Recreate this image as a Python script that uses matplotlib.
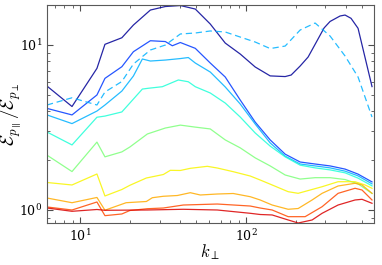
import numpy as np
import matplotlib
matplotlib.use('Agg')
import matplotlib.pyplot as plt

plt.rcParams['mathtext.fontset'] = 'cm'
plt.rcParams['font.family'] = 'serif'
plt.rcParams['font.serif'] = ['DejaVu Serif']

# ratio E_p_par / E_p_perp versus k_perp, one curve per time / run
k_navy = [6.28, 8.89, 12.57, 14.05, 17.77, 20.86, 26.41, 32.51, 40.04, 49.29, 60.69,
          74.72, 92.03, 113.3, 139.5, 171.8, 186.7, 211.5, 236.3, 260.4, 295.1, 320.6,
          368.4, 394.8, 429.0, 472.9, 513.9, 574.1]
v_navy = [5.64, 4.24, 7.22, 10.1, 11.07, 13.22, 16.30, 17.12, 17.36, 16.53, 13.41,
          10.28, 8.82, 7.36, 6.50, 6.44, 6.58, 7.46, 8.46, 10.1, 12.7, 13.9,
          15.0, 15.2, 14.52, 12.63, 8.91, 5.60]

k_blue = [6.28, 8.89, 12.57, 14.05, 17.77, 20.86, 26.41, 32.51, 35.83, 40.04, 49.29,
          60.69, 74.72, 92.03, 113.3, 139.5, 171.8, 211.5, 260.4, 320.6, 394.8, 472.9, 574.1]
v_blue = [4.13, 3.77, 4.98, 6.28, 7.39, 9.11, 10.62, 10.5, 9.9, 10.36, 9.55,
          7.78, 6.40, 4.64, 3.41, 2.66, 2.18, 1.954, 1.90, 1.85, 1.77, 1.65, 1.48]

k_dash = [6.28, 8.89, 12.57, 14.05, 17.77, 20.86, 26.41, 32.51, 40.04, 49.29, 60.69,
          74.72, 92.03, 113.3, 139.5, 171.8, 211.5, 260.4, 320.6, 394.8, 472.9, 574.1]
v_dash = [4.33, 4.79, 4.33, 5.19, 6.01, 7.67, 9.33, 10.0, 11.67, 11.83, 12.17,
          12.0, 11.18, 10.43, 9.52, 9.86, 12.33, 13.6, 11.34, 8.58, 6.40, 3.66]

k_lblue = [6.28, 8.89, 12.57, 14.05, 17.77, 20.86, 23.63, 26.41, 32.51, 40.04, 44.73,
           49.29, 60.69, 74.72, 92.03, 113.3, 139.5, 171.8, 211.5, 260.4, 320.6, 394.8,
           472.9, 574.1]
v_lblue = [3.77, 3.34, 3.98, 4.33, 5.26, 6.49, 8.23, 8.0, 8.11, 8.28, 8.4,
           7.78, 6.86, 5.57, 4.39, 3.32, 2.55, 2.12, 1.90, 1.85, 1.80, 1.72,
           1.61, 1.44]

k_cyan = [6.28, 8.89, 12.57, 14.05, 17.77, 23.63, 25.68, 31.19, 38.94, 44.73, 49.29,
          60.69, 74.72, 92.03, 113.3, 139.5, 171.8, 211.5, 260.4, 320.6, 394.8, 472.9, 574.1]
v_cyan = [2.97, 2.48, 3.65, 3.71, 3.93, 5.41, 5.47, 5.59, 6.14, 5.99, 5.59,
          5.12, 4.45, 3.66, 2.93, 2.44, 2.10, 1.87, 1.80, 1.75, 1.68, 1.56, 1.40]

k_green = [6.28, 8.89, 12.57, 14.05, 17.77, 19.87, 25.33, 32.51, 40.04, 49.29, 60.69,
           74.72, 92.03, 113.3, 139.5, 171.8, 211.5, 260.4, 320.6, 394.8, 472.9, 574.1]
v_green = [2.15, 1.71, 2.58, 2.10, 2.25, 2.41, 2.89, 3.14, 3.27, 3.18, 3.10,
           2.66, 2.38, 2.07, 1.85, 1.63, 1.54, 1.57, 1.57, 1.53, 1.44, 1.26]

k_yellow = [6.28, 8.89, 12.57, 14.05, 17.77, 19.87, 24.98, 31.62, 34.84, 40.04, 45.99,
            58.22, 66.88, 83.50, 105.7, 121.4, 143.4, 179.1, 205.8, 287.0, 358.3, 453.6,
            521.1, 574.1]
v_yellow = [1.468, 1.418, 1.653, 1.216, 1.331, 1.412, 1.563, 1.641, 1.740, 1.736, 1.789,
            1.840, 1.797, 1.707, 1.607, 1.520, 1.418, 1.291, 1.262, 1.384, 1.484, 1.484,
            1.418, 1.354]

k_orange = [6.28, 8.89, 12.57, 14.05, 18.85, 24.98, 27.15, 31.62, 38.39, 45.99, 52.84,
            66.88, 83.50, 105.7, 121.4, 143.4, 179.1, 205.8, 249.8, 287.0, 358.3, 453.6,
            499.7, 574.1]
v_orange = [1.182, 1.107, 1.191, 0.997, 1.107, 1.126, 1.187, 1.211, 1.224, 1.273, 1.233,
            1.250, 1.259, 1.204, 1.150, 1.072, 1.010, 1.021, 1.150, 1.262, 1.398, 1.452,
            1.418, 1.262]

k_redor = [6.28, 8.89, 12.57, 14.05, 17.77, 19.87, 25.33, 31.62, 41.74, 66.88, 105.7,
           121.4, 143.4, 179.1, 226.7, 287.0, 358.3, 453.6, 499.7, 574.1]
v_redor = [1.043, 1.0, 1.118, 0.924, 0.946, 0.993, 1.018, 1.028, 1.072, 1.087, 1.057,
           1.028, 1.0, 0.911, 0.911, 1.047, 1.262, 1.354, 1.322, 1.150]

k_red = [6.28, 8.89, 12.57, 14.05, 25.33, 41.74, 66.88, 105.7, 121.4, 143.4, 179.1,
         205.8, 249.8, 287.0, 358.3, 453.6, 499.7, 574.1]
v_red = [1.028, 0.982, 1.007, 0.996, 1.0, 1.01, 1.0, 0.955, 0.939, 0.933, 0.870,
         0.834, 0.870, 0.955, 1.072, 1.150, 1.161, 1.098]

curves = [
    (k_navy, v_navy, 0.02, '-'),
    (k_blue, v_blue, 0.18, '-'),
    (k_dash, v_dash, 0.30, '--'),
    (k_lblue, v_lblue, 0.30, '-'),
    (k_cyan, v_cyan, 0.39, '-'),
    (k_green, v_green, 0.50, '-'),
    (k_yellow, v_yellow, 0.65, '-'),
    (k_orange, v_orange, 0.73, '-'),
    (k_redor, v_redor, 0.83, '-'),
    (k_red, v_red, 0.92, '-'),
]

fig = plt.figure(figsize=(3.82, 2.65), dpi=100)
ax = fig.add_axes([0.123, 0.1585, 0.856, 0.8225])

for k, v, c, ls in curves:
    line, = ax.plot(k, v, ls, color=plt.cm.jet(c), lw=0.9, alpha=0.85)
    if ls == '--':
        line.set_dashes((5, 3))

ax.set_xscale('log')
ax.set_yscale('log')
ax.set_xlim(6.28, 590)
ax.set_ylim(0.834, 17.48)

ax.tick_params(which='both', direction='in', top=True, right=True, labelsize=9,
               color='0.3')
ax.tick_params(which='major', length=4)
ax.tick_params(which='minor', length=2)
for s in ax.spines.values():
    s.set_color('0.35')
    s.set_linewidth(0.8)

ax.set_xlabel(r'$k_\perp$', fontsize=12)
ax.set_ylabel(r'$\mathcal{E}_{p_\parallel}/\mathcal{E}_{p_\perp}$', fontsize=13.5)
ax.xaxis.set_label_coords(0.5, -0.09)
ax.yaxis.set_label_coords(-0.07, 0.5)

fig.savefig('out.png', dpi=100)
